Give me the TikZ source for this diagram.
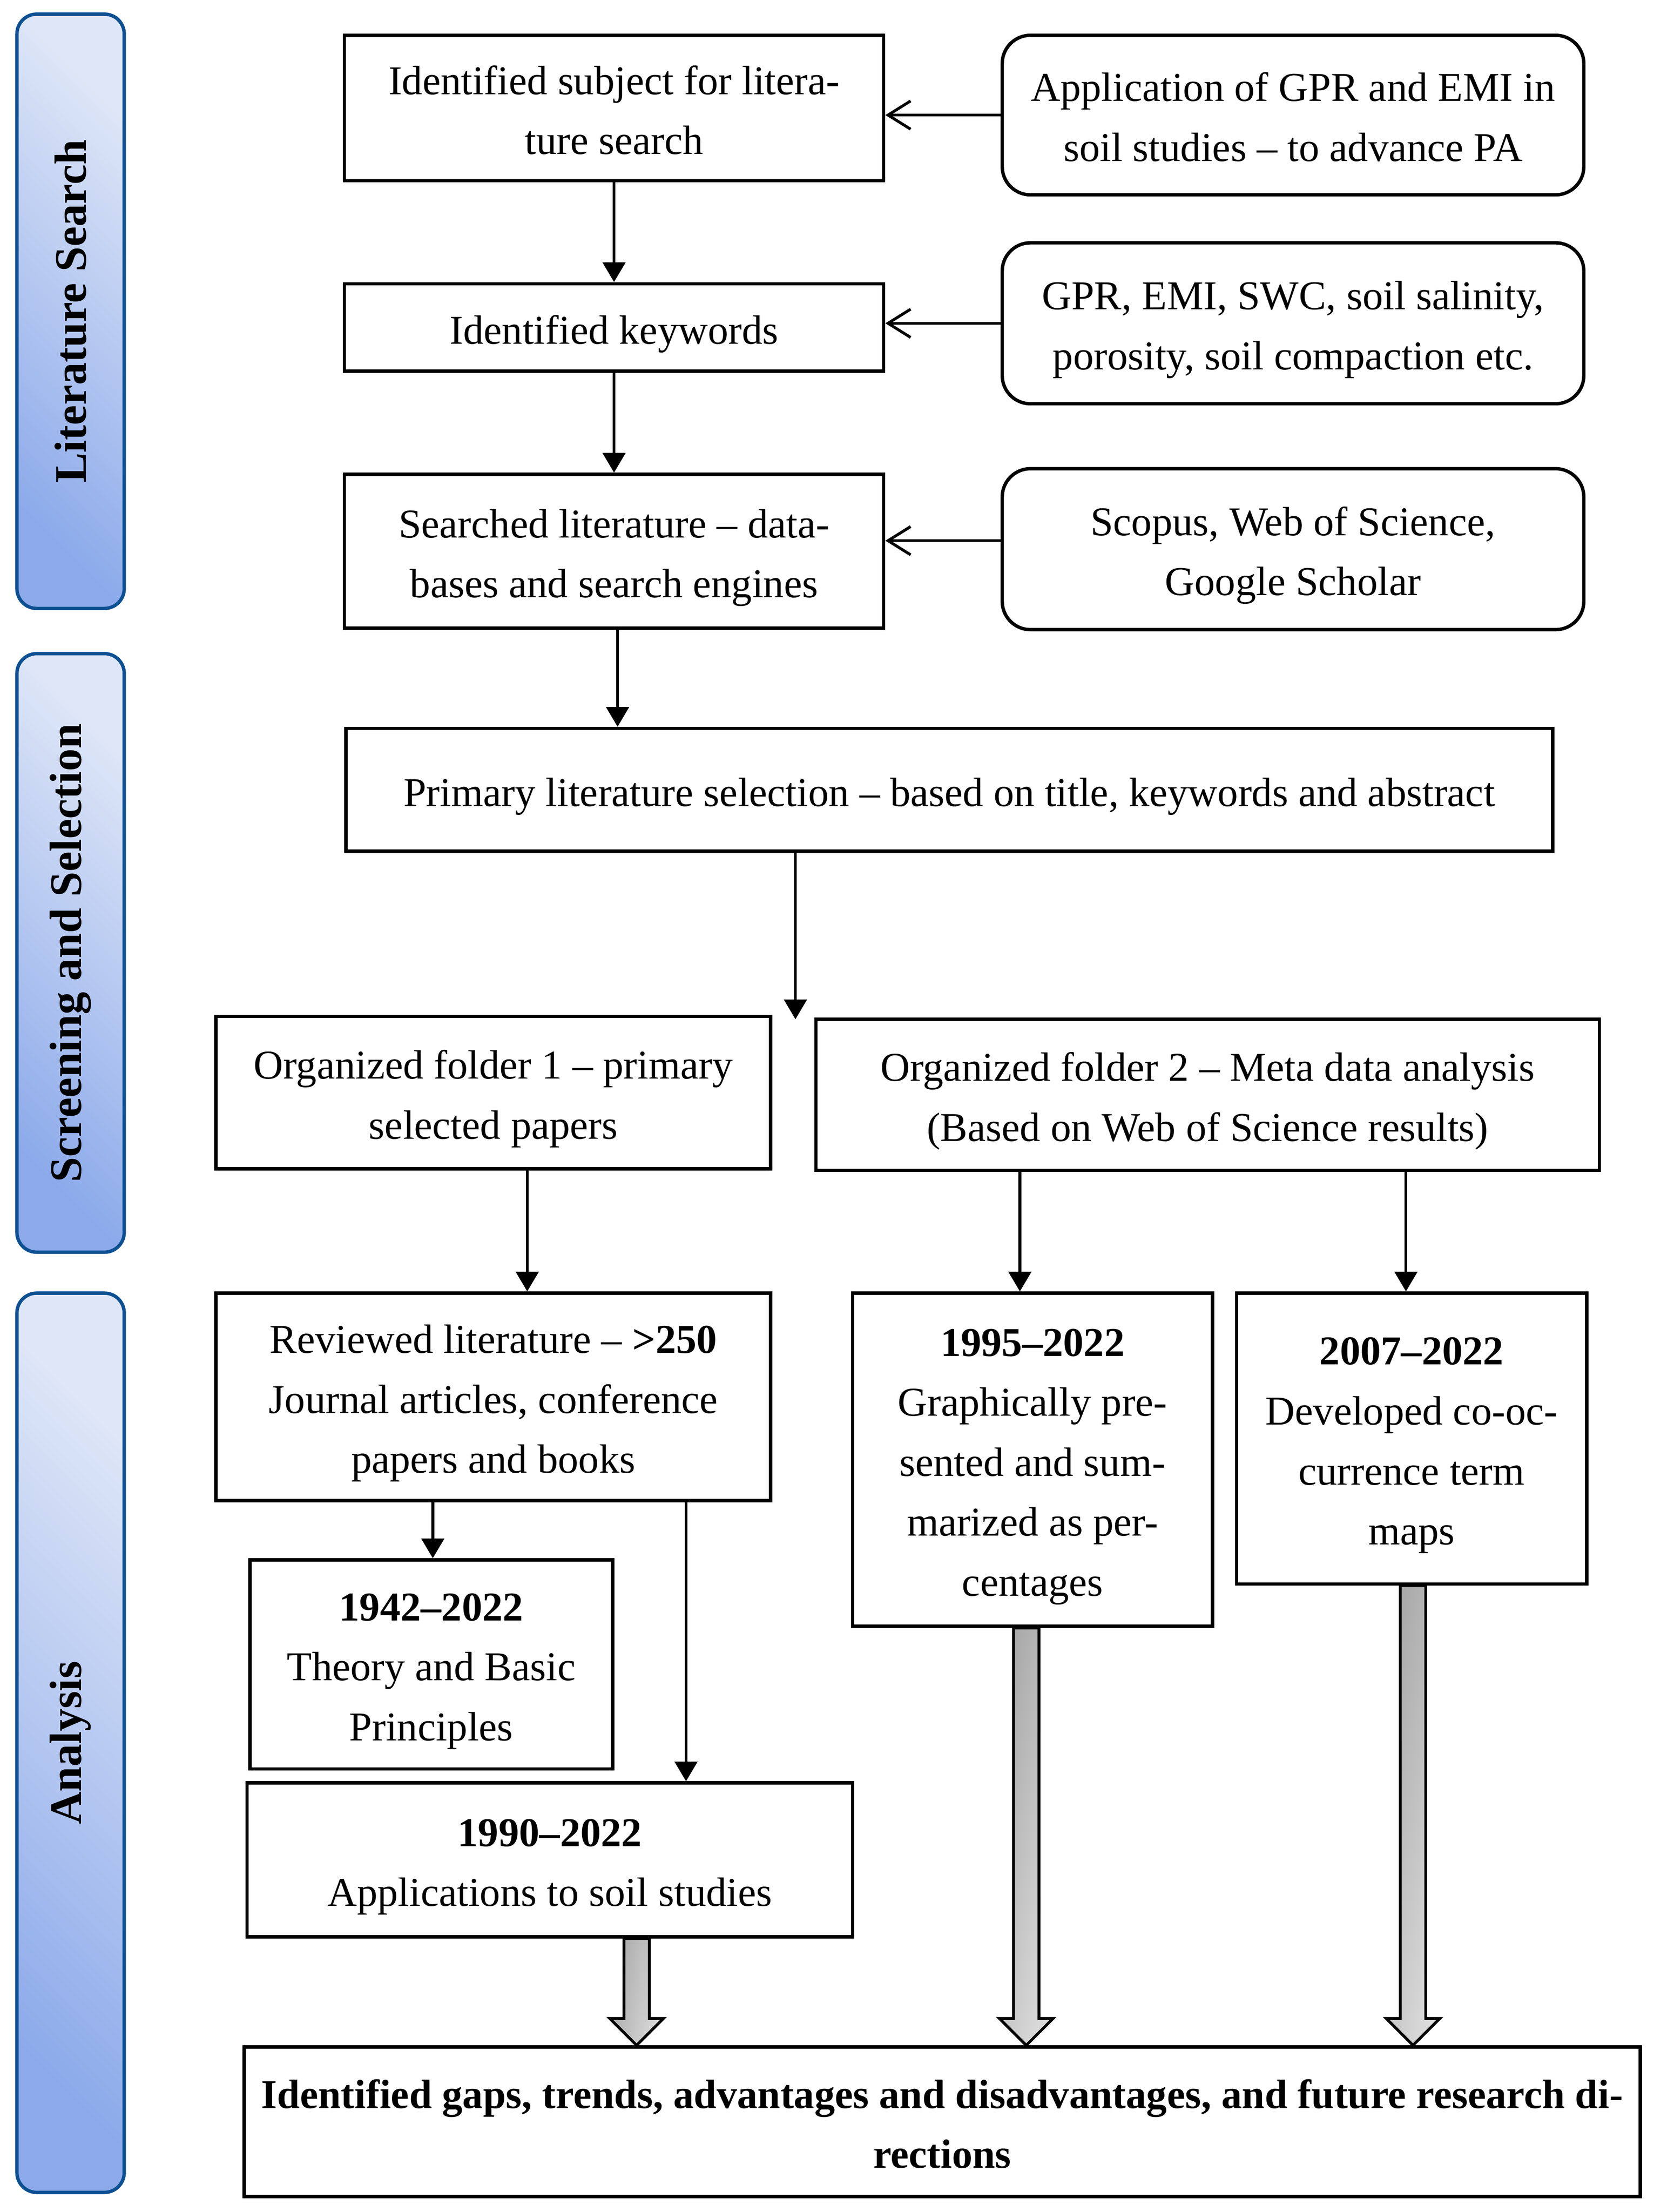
\documentclass[tikz,border=0pt]{standalone}
\usepackage{fontspec}
\setmainfont{Liberation Serif}
\usetikzlibrary{arrows.meta,calc}
\definecolor{barborder}{RGB}{12,80,146}
\definecolor{barlight}{RGB}{222,230,247}
\definecolor{bardark}{RGB}{140,170,234}
\definecolor{arrdark}{RGB}{165,165,165}
\definecolor{arrlight}{RGB}{222,222,222}
\newcommand\bt[1]{\raisebox{0pt}[\dimexpr\height+6pt\relax][\depth]{\begin{tabular}{@{}c@{}}#1\end{tabular}}}
\tikzset{
  txt/.style={font=\fontsize{29}{42.5}\selectfont},
  box/.style={draw, line width=2.4pt, align=center, inner sep=0pt, txt},
  rbox/.style={box, rounded corners=20pt},
  sidebar/.style={draw=barborder, line width=2.4pt, rounded corners=14pt, top color=barlight, bottom color=bardark, shading angle=-45},
  sidetext/.style={rotate=90, font=\fontsize{32}{36}\selectfont\bfseries},
  arr/.style={line width=2pt, -{Triangle[length=14pt,width=16pt]}},
  barb/.style={line width=2pt, -{Straight Barb[length=16pt,width=20pt]}},
  harrow/.style={draw, line width=2pt, line join=miter, left color=arrdark, right color=arrlight, shading angle=80},
}
\newcommand\hollowarrow[2]{%
  \path[harrow] ($(#1)+(-9,0)$) -- ($(#2)+(-9,-19)$) -- ($(#2)+(-19,-19)$) -- (#2)
    -- ($(#2)+(19,-19)$) -- ($(#2)+(9,-19)$) -- ($(#1)+(9,0)$) -- cycle;
}
\begin{document}
\begin{tikzpicture}[x=1pt,y=-1pt]
\fill[white] (0,0) rectangle (1171.6,1566.9);
\useasboundingbox (0,0) rectangle (1171.6,1566.9);

% side bars
\node[sidebar, minimum width=76pt, minimum height=421pt] (S1) at (50,220.5) {};
\node[sidetext] (T1) at (S1.center) {Literature Search};
\node[sidebar, minimum width=76pt, minimum height=424pt] (S2) at (50,675) {};
\node[sidetext] (T2) at (S2.center) {Screening and Selection};
\node[sidebar, minimum width=76pt, minimum height=637pt] (S3) at (50,1234.5) {};
\node[sidetext] (T3) at (S3.center) {Analysis};

% boxes
\node[box, minimum width=382pt, minimum height=103pt] (A) at (435,76.5) {\bt{Identified subject for litera-\\ture search}};
\node[rbox, minimum width=412pt, minimum height=113pt] (R1) at (916,81.5) {\bt{Application of GPR and EMI in\\soil studies -- to advance PA}};
\node[box, minimum width=382pt, minimum height=62pt] (B) at (435,232) {\bt{Identified keywords}};
\node[rbox, minimum width=412pt, minimum height=114pt] (R2) at (916,229) {\bt{GPR, EMI, SWC, soil salinity,\\porosity, soil compaction etc.}};
\node[box, minimum width=382pt, minimum height=109pt] (C) at (435,390.5) {\bt{Searched literature -- data-\\bases and search engines}};
\node[rbox, minimum width=412pt, minimum height=114pt] (R3) at (916,389) {\bt{Scopus, Web of Science,\\Google Scholar}};
\node[box, minimum width=855pt, minimum height=87pt] (D) at (672.5,559.5) {\bt{Primary literature selection -- based on title, keywords and abstract}};
\node[box, minimum width=393pt, minimum height=108pt] (E1) at (349.5,774) {\bt{Organized folder 1 -- primary\\selected papers}};
\node[box, minimum width=555pt, minimum height=107pt] (E2) at (855.5,775.5) {\bt{Organized folder 2 -- Meta data analysis\\(Based on Web of Science results)}};
\node[box, minimum width=393pt, minimum height=147pt] (F1) at (349.5,989.5) {\bt{Reviewed literature -- \textbf{>250}\\Journal articles, conference\\papers and books}};
\node[box, minimum width=255pt, minimum height=236pt] (F2) at (731.5,1034) {\bt{\textbf{1995--2022}\\Graphically pre-\\sented and sum-\\marized as per-\\centages}};
\node[box, minimum width=248pt, minimum height=206pt] (F3) at (1000,1019) {\bt{\textbf{2007--2022}\\Developed co-oc-\\currence term\\maps}};
\node[box, minimum width=257pt, minimum height=148pt] (G1) at (305.5,1179) {\bt{\textbf{1942--2022}\\Theory and Basic\\Principles}};
\node[box, minimum width=429pt, minimum height=109pt] (G2) at (389.5,1317.5) {\bt{\textbf{1990--2022}\\Applications to soil studies}};
\node[box, minimum width=989pt, minimum height=106pt, font=\fontsize{29}{42.5}\selectfont\bfseries] (H) at (667.5,1503) {\bt{Identified gaps, trends, advantages and disadvantages, and future research di-\\rections}};

% helper coordinates
\coordinate (xd) at (563.5,722);
\coordinate (x1) at (373.5,0);
\coordinate (x2) at (722.5,0);
\coordinate (x3) at (996,0);
\coordinate (x4) at (306.6,0);
\coordinate (x5) at (486,0);
\coordinate (hx1) at (451,0);
\coordinate (hx2) at (727,0);
\coordinate (hx3) at (1001,0);

% connectors
\draw[barb] (R1.west) -- (R1.west -| A.east);
\draw[barb] (R2.west) -- (R2.west -| B.east);
\draw[barb] ([yshift=6pt]R3.west) -- ([yshift=6pt]R3.west -| C.east);
\draw[arr] (A.south) -- (B.north);
\draw[arr] (B.south) -- (C.north);
\draw[arr] ([xshift=2.5pt]C.south) -- ([xshift=2.5pt]C.south |- D.north);
\draw[arr] (D.south -| xd) -- (xd);
\draw[arr] (E1.south -| x1) -- (x1 |- F1.north);
\draw[arr] (E2.south -| x2) -- (x2 |- F2.north);
\draw[arr] (E2.south -| x3) -- (x3 |- F3.north);
\draw[arr] (F1.south -| x4) -- (x4 |- G1.north);
\draw[arr] (F1.south -| x5) -- (x5 |- G2.north);

% hollow block arrows
\coordinate (ha1) at (G2.south -| hx1);
\coordinate (hb1) at (H.north -| hx1);
\coordinate (ha2) at (F2.south -| hx2);
\coordinate (hb2) at (H.north -| hx2);
\coordinate (ha3) at (F3.south -| hx3);
\coordinate (hb3) at (H.north -| hx3);
\hollowarrow{ha1}{hb1}
\hollowarrow{ha2}{hb2}
\hollowarrow{ha3}{hb3}
\end{tikzpicture}
\end{document}
